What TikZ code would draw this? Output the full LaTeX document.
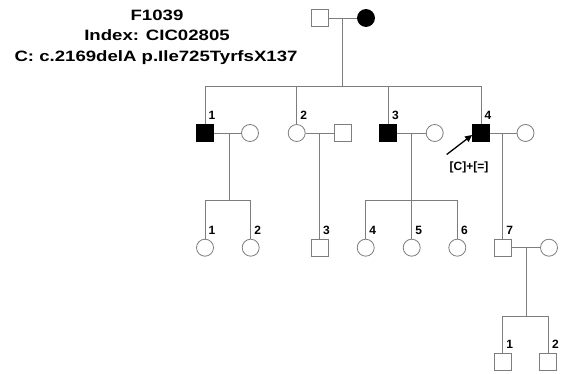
\documentclass[tikz,border=0pt]{standalone}
\usepackage{fontspec}
\setmainfont{Liberation Sans}
\newfontfamily\headfont[FakeStretch=1.24]{Liberation Sans}
\usepackage{tikz}
\usetikzlibrary{shapes,arrows.meta,positioning,calc}
\definecolor{pedline}{RGB}{125,125,125}

\begin{document}
\begin{tikzpicture}[
    x=1pt, y=-1pt,
    male/.style={rectangle, draw=pedline, fill=white, minimum size=17pt, inner sep=0pt, line width=0.8pt},
    female/.style={circle, draw=pedline, fill=white, minimum size=17pt, inner sep=0pt, line width=0.8pt},
    affected/.style={fill=black, draw=black},
    rel/.style={draw=pedline, line width=0.8pt},
    num/.style={font=\fontsize{12}{14}\selectfont\bfseries, inner sep=0pt, anchor=base west, xshift=3.5pt, yshift=4.5pt},
    head/.style={font=\headfont\fontsize{15}{18}\selectfont\bfseries, inner sep=0pt, anchor=base},
    arrow/.style={-{Triangle[length=7pt,width=6.5pt]}, line width=1.3pt}
]
\useasboundingbox (0,0) rectangle (563,374);

% Title
\node[head] (title1) at (157,21) {F1039};
\node[head] (title2) at (157,41) {Index: CIC02805};
\node[head] (title3) at (156,61.5) {C: c.2169delA p.Ile725TyrfsX137};

% Generation I
\node[male] (I1) at (320,18) {};
\node[female, affected] (I2) at (366,18) {};
\coordinate (mI) at (342.7,18);
\coordinate (sI) at (342.7,86);

% Generation II
\node[male, affected, label={[num]north:1}] (II1) at (205,133) {};
\node[female] (II1s) at (250,133) {};
\node[female, label={[num]north:2}] (II2) at (296.7,133) {};
\node[male] (II2s) at (342.7,133) {};
\node[male, affected, label={[num]north:3}] (II3) at (388.3,133) {};
\node[female] (II3s) at (434.7,133) {};
\node[male, affected, label={[num]north:4}] (II4) at (481,133) {};
\node[female] (II4s) at (525.5,133) {};
\coordinate (mII1) at (229.3,133);
\coordinate (sII1) at (229.3,200.7);
\coordinate (mII2) at (319.5,133);
\coordinate (mII3) at (411.7,133);
\coordinate (sII3) at (411.7,200.7);
\coordinate (mII4) at (502.7,133);

% Proband
\node[font=\fontsize{12}{14}\selectfont\bfseries, inner sep=0pt] (gt) at (469,167) {[C]+[=]};
\coordinate (arr) at (446.7,154.5);

% Generation III
\node[female, label={[num]north:1}] (III1) at (205,247.7) {};
\node[female, label={[num]north:2}] (III2) at (250.7,247.7) {};
\node[male, label={[num]north:3}] (III3) at (319.5,247.7) {};
\node[female, label={[num]north:4}] (III4) at (365.7,247.7) {};
\node[female, label={[num]north:5}] (III5) at (411.7,247.7) {};
\node[female, label={[num]north:6}] (III6) at (457.3,247.7) {};
\node[male, label={[num]north:7}] (III7) at (502.7,247.7) {};
\node[female] (III7s) at (549,247.7) {};
\coordinate (mIII7) at (526.7,247.7);
\coordinate (sIII7) at (526.7,316);

% Generation IV
\node[male, label={[num]north:1}] (IV1) at (502.7,361.5) {};
\node[male, label={[num]north:2}] (IV2) at (548.3,361.5) {};

% Lines
\draw[rel] (I1) -- (I2);
\draw[rel] (mI) -- (sI);
\draw[rel] (sI) -| (II1);
\draw[rel] (sI) -| (II2);
\draw[rel] (sI) -| (II3);
\draw[rel] (sI) -| (II4);
\draw[rel] (II1) -- (II1s);
\draw[rel] (II2) -- (II2s);
\draw[rel] (II3) -- (II3s);
\draw[rel] (II4) -- (II4s);
\draw[rel] (mII1) -- (sII1);
\draw[rel] (sII1) -| (III1);
\draw[rel] (sII1) -| (III2);
\draw[rel] (mII2) -- (III3);
\draw[rel] (mII3) -- (III5);
\draw[rel] (sII3) -| (III4);
\draw[rel] (sII3) -| (III6);
\draw[rel] (mII4) -- (III7);
\draw[rel] (III7) -- (III7s);
\draw[rel] (mIII7) -- (sIII7);
\draw[rel] (sIII7) -| (IV1);
\draw[rel] (sIII7) -| (IV2);
\draw[arrow] (arr) -- ([yshift=-2pt]II4.west);
\end{tikzpicture}
\end{document}
